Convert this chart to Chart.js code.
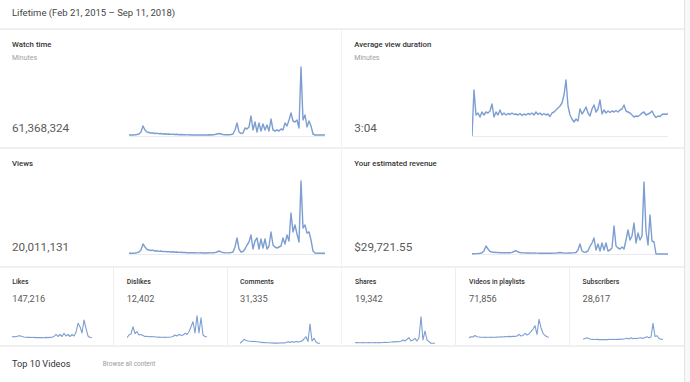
<!DOCTYPE html>
<html><head><meta charset="utf-8">
<script src="https://cdn.jsdelivr.net/npm/chart.js@4.4.0/dist/chart.umd.min.js"></script>
<style>
html,body{margin:0;padding:0;background:#fff;width:690px;height:382px;overflow:hidden;font-family:Roboto,"Noto Sans",sans-serif;}
.t{position:absolute;white-space:nowrap;line-height:1;}
.ti{font-weight:500;color:#333;}
.bt{font-size:7.8px;}
.st{font-size:6.9px;}
.bv{font-size:11.7px;color:#5a5a5a;}
.sv{font-size:9.2px;color:#5a5a5a;}
.ln{position:absolute;background:#eeeeee;}
.c{position:absolute;}
</style></head><body>

<div class="ln" style="left:684px;top:0;width:6px;height:382px;background:#f8f8f8"></div>
<div class="ln" style="left:684px;top:0;width:1px;height:382px;background:#e4e4e4"></div>
<div class="ln" style="left:0;top:28px;width:684px;height:2px;background:#efefef"></div>
<div class="ln" style="left:0;top:147px;width:684px;height:2px;background:#f0f0f0"></div>
<div class="ln" style="left:0;top:266px;width:684px;height:2px;background:#f0f0f0"></div>
<div class="ln" style="left:0;top:345px;width:684px;height:2px;background:#f0f0f0"></div>
<div class="ln" style="left:341px;top:30px;width:1px;height:315px;background:#f3f3f3"></div>
<div class="ln" style="left:113px;top:268px;width:1px;height:77px;background:#eeeeee"></div>
<div class="ln" style="left:227px;top:268px;width:1px;height:77px;background:#eeeeee"></div>
<div class="ln" style="left:455px;top:268px;width:1px;height:77px;background:#eeeeee"></div>
<div class="ln" style="left:569px;top:268px;width:1px;height:77px;background:#eeeeee"></div>

<div class="t" style="left:12px;top:7.5px;font-size:9.5px;color:#444">Lifetime (Feb 21, 2015 – Sep 11, 2018)</div>

<div class="t ti bt" style="left:12px;top:41.4px">Watch time</div>
<div class="t" style="left:12px;top:54.6px;font-size:7px;color:#a0a0a0">Minutes</div>
<div class="t bv" style="left:12px;top:122.6px">61,368,324</div>

<div class="t ti bt" style="left:354.3px;top:41.4px">Average view duration</div>
<div class="t" style="left:354.3px;top:54.6px;font-size:7px;color:#a0a0a0">Minutes</div>
<div class="t bv" style="left:354.3px;top:122.6px">3:04</div>

<div class="t ti bt" style="left:12px;top:159.9px">Views</div>
<div class="t bv" style="left:12px;top:241.6px">20,011,131</div>

<div class="t ti bt" style="left:354.3px;top:159.9px">Your estimated revenue</div>
<div class="t bv" style="left:354.3px;top:241.6px">$29,721.55</div>

<div class="t ti st" style="left:12.3px;top:279.2px">Likes</div>
<div class="t sv" style="left:12.3px;top:293.6px">147,216</div>
<div class="t ti st" style="left:126.7px;top:279.2px">Dislikes</div>
<div class="t sv" style="left:126.7px;top:293.6px">12,402</div>
<div class="t ti st" style="left:240px;top:279.2px">Comments</div>
<div class="t sv" style="left:240px;top:293.6px">31,335</div>
<div class="t ti st" style="left:355px;top:279.2px">Shares</div>
<div class="t sv" style="left:355px;top:293.6px">19,342</div>
<div class="t ti st" style="left:469px;top:279.2px">Videos in playlists</div>
<div class="t sv" style="left:469px;top:293.6px">71,856</div>
<div class="t ti st" style="left:582.5px;top:279.2px">Subscribers</div>
<div class="t sv" style="left:582.5px;top:293.6px">28,617</div>

<div class="t" style="left:12px;top:359.1px;font-size:9.2px;color:#333">Top 10 Videos</div>
<div class="t" style="left:102.7px;top:361.3px;font-size:6.4px;color:#9a9a9a">Browse all content</div>

<div class="c" style="left:129px;top:58px;width:196px;height:80px"><canvas id="cWatch"></canvas></div>
<div class="c" style="left:472px;top:58px;width:196px;height:80px"><canvas id="cAvg"></canvas></div>
<div class="c" style="left:129px;top:176px;width:196px;height:80px"><canvas id="cViews"></canvas></div>
<div class="c" style="left:472px;top:176px;width:196px;height:80px"><canvas id="cRev"></canvas></div>
<div class="c" style="left:12px;top:310px;width:80px;height:37px"><canvas id="cLikes"></canvas></div>
<div class="c" style="left:127px;top:310px;width:80px;height:37px"><canvas id="cDislikes"></canvas></div>
<div class="c" style="left:240px;top:310px;width:80px;height:37px"><canvas id="cComments"></canvas></div>
<div class="c" style="left:355px;top:310px;width:80px;height:37px"><canvas id="cShares"></canvas></div>
<div class="c" style="left:469px;top:310px;width:80px;height:37px"><canvas id="cPlaylists"></canvas></div>
<div class="c" style="left:583px;top:310px;width:80px;height:37px"><canvas id="cSubs"></canvas></div>

<script>
// Series values (relative daily levels read from the sparklines, Feb 2015 – Sep 2018)
const watchTime = [1,1,1,1.2,1.5,2,4,10,6,4,
  3.5,3,3,2.5,2.8,2.2,2.5,2,2.2,1.8,
  2,1.6,1.8,1.5,1.7,1.3,1.5,1.2,1.2,1.1,
  1.2,1,1,1.1,1,1,1,1.1,1,1,
  1.2,1,1.3,1.5,2,2.5,2,1.5,1.2,1.2,
  1.3,1.5,2,6,13,4,2.5,3,8,7,
  9,20,6,14,4,13,5,12,6,11,
  5,17,6,5,6,5,7,6,13,10,
  16,23,15,14,16,8,69,16,21,9,
  15,10,2,1,1,1,1,1,1];
const avgDuration = [0,46,21,23,19,24,21,24,23,25,
  32,19,24,21,26,21,23,21,22.5,21.5,
  23,21.5,22,21,22.5,20.5,22,21,22.5,21.5,
  23,21,24,21.5,23,21,22.5,21,22,19.5,
  23,24,26,28,30,33,41,56,30,21,
  17,14,17,15,27,22,25,29,23,20,
  27,31,24,27,36,22,26,23,25,23.5,
  25,24,25.5,24,26,27,31,25,24,23,
  21,19,20,19.5,21,23,24,21,22,23,
  25,21,18.5,20,19.5,21.5,22,21.5,22.5];
const views = [0.7,0.7,0.8,1,1.3,2,4,10,7,4.5,
  4,3.5,3.8,3,3.2,2.6,3,2.4,2.6,2.2,
  2.4,2,2.2,1.8,2,1.6,1.8,1.5,1.5,1.3,
  1.4,1.2,1.2,1.3,1.1,1.1,1.2,1,1.1,1,
  1.2,1.1,1.3,1.4,2,3,2.2,1.5,1.2,1.1,
  1.2,1.4,2,7,16,5,2,2.5,5,9,
  12,19,5,13,16,5,15,6,15,5,
  8,22,9,7,6,7,8,16,10,19,
  13,41,22,29,20,12,73,26,29,21,
  22,14,3,1,0.7,0.7,0.7,0.7,0.7];
const revenue = [0.3,0.3,0.4,0.5,0.8,1.2,3,8,5,2.5,
  2,1.8,1.5,1.6,1.3,1.4,1.2,1.4,1.2,1.3,
  1.6,2.5,3.3,2,1.5,1.2,1.1,1,1,1,
  0.9,1,0.9,0.9,0.8,0.9,0.8,0.8,0.9,0.8,
  0.8,0.9,1,1.2,1.5,1.2,0.9,0.9,1,1,
  1.1,1.2,1.5,4,10,3,1.8,2,3,7.7,
  11,16,4,10,3,11,4,11,3,4,
  6,28,8,6,5,7,5,14,24,14,
  18,31,11,21,14,18,72,23,9,39,
  13,12,0,0,0,0,0,0,0];
const likes = [8,8.5,8.3,9,9.3,8.5,8,7.8,7.6,7.7,
  7.5,7.6,7.4,7.5,7.4,7.5,7.3,7.6,7.4,7.6,
  7.8,8.5,10.7,8.5,10.5,8.5,11.7,9,10.5,8.5,
  10.5,9,12.7,21.7,18.3,12,25,16.7,9,7.5,
  7.3];
const dislikes = [7.3,10,11,18.3,11.5,13.3,10,10.5,9.5,8.5,
  8.8,8.3,8.5,8.2,8.3,7.8,8,7.7,7.8,7.6,
  7.8,7.7,8,8.5,10,9,10.7,9.5,10,11.7,
  10.5,13.3,18.3,23.3,12,29.3,12,27.3,10,8.3,
  8.3];
const comments = [1.7,3.5,5.7,4.5,4,3.8,3.5,3.7,3.3,3.2,
  2.8,2.6,2.4,2.2,2.3,2,2.1,1.9,2,1.9,
  2,2.2,2,2.4,3.2,2.6,3.4,2.8,3.6,3,
  3.4,4,6,8.3,3.5,21,4,6.7,3,1.8,
  1.7];
const shares = [2.3,2.4,2.2,2.3,2.4,2.3,2.2,2.4,2.3,2.3,
  2.5,2.3,2.4,2.3,2.5,2.6,2.5,2.8,3,3.3,
  3.1,3.5,3.3,3.8,5,4,5.7,7.3,4,5,
  6.7,4,7.3,28.3,5,14,5,3.3,1.8,1.7,
  1.7];
const playlists = [7.3,8.3,8,9.5,8.3,8,7.7,7.8,7.6,7.8,
  7.7,7.6,7.8,7.7,7.9,8,8.2,8,8.4,8.2,
  8.6,8.4,8.8,8.6,9,10.7,9,9.5,11.7,10,
  11,13.3,16,19.3,10.5,25.7,17.3,11.7,9.5,8.3,
  7.7];
const subscribers = [5.7,6.5,7.3,6.2,5.8,5.6,5.5,5.6,5.4,5.5,
  5.4,5.5,5.4,5.6,5.5,5.7,5.5,5.8,5.6,6,
  5.8,6.2,6.7,6,7.3,6.2,6.8,6.5,7,7.3,
  6.5,7.5,8.3,7.3,8,21.7,8.5,9.3,6.5,5.7,
  5.7];

const LINE = '#7c9ed0';

function spark(id, data, maxY, lineWidth, baseline) {
  const labels = data.map((_, i) => String(i));
  new Chart(document.getElementById(id), {
    type: 'line',
    data: { labels, datasets: [{ data, borderColor: LINE, borderWidth: lineWidth, pointRadius: 0,
      tension: 0, fill: false, borderJoinStyle: 'round', clip: 3 }] },
    options: {
      responsive: true, maintainAspectRatio: false, animation: false, events: [],
      devicePixelRatio: 1,
      layout: { padding: { top: 2, bottom: 2, left: 0, right: 0 }, autoPadding: false },
      plugins: { legend: { display: false }, tooltip: { enabled: false } },
      scales: {
        x: { display: baseline, grid: { display: false, drawTicks: false }, ticks: { display: false },
             border: { display: true, color: '#e8ecf1', width: 1 } },
        y: { display: false, min: 0, max: maxY }
      }
    }
  });
}
spark('cWatch', watchTime, 76, 1.4, true);
spark('cAvg', avgDuration, 76, 1.4, true);
spark('cViews', views, 76, 1.4, true);
spark('cRev', revenue, 76, 1.4, true);
spark('cLikes', likes, 33, 1.1, false);
spark('cDislikes', dislikes, 33, 1.1, false);
spark('cComments', comments, 33, 1.1, false);
spark('cShares', shares, 33, 1.1, false);
spark('cPlaylists', playlists, 33, 1.1, false);
spark('cSubs', subscribers, 33, 1.1, false);
</script>
</body></html>
